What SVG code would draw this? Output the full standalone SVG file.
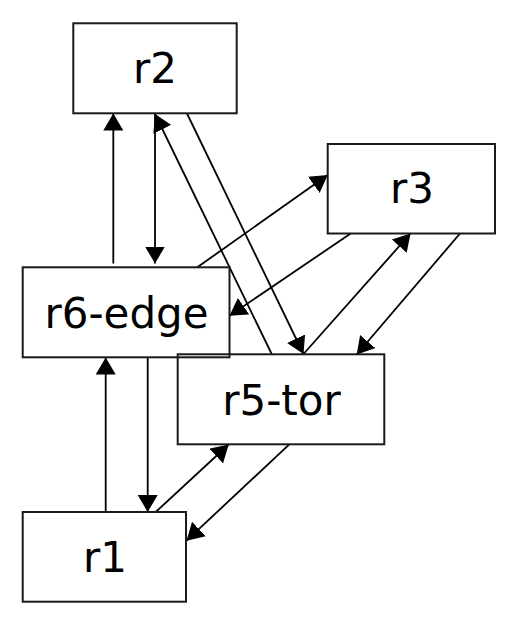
<svg xmlns="http://www.w3.org/2000/svg" width="518" height="625" viewBox="0 0 518 625">
<style>
.box{fill:none;stroke:#1a1a1a;stroke-width:2}
.lbl{font-family:"DejaVu Sans",sans-serif;font-size:42px;fill:#000;text-anchor:middle}
.e{fill:none;stroke:#000;stroke-width:1.8;marker-end:url(#ah)}
</style>
<defs>
<marker id="ah" viewBox="0 0 17 20" refX="17" refY="10" markerWidth="17" markerHeight="20" markerUnits="userSpaceOnUse" orient="auto">
<path d="M0,0 L17,10 L0,20 z" fill="#000"/>
</marker>
</defs>
<rect width="518" height="625" fill="#fff"/>
<g id="connectors">
<line class="e" x1="113.3" y1="263.5" x2="113.3" y2="113.5"/>
<line class="e" x1="155" y1="113.5" x2="155" y2="263.5"/>
<line class="e" x1="271.7" y1="354" x2="155" y2="114"/>
<line class="e" x1="187" y1="113.5" x2="303.5" y2="354"/>
<line class="e" x1="197.3" y1="267.3" x2="327.7" y2="175"/>
<line class="e" x1="350.7" y1="233.5" x2="229.5" y2="315.7"/>
<line class="e" x1="303.5" y1="354" x2="410.5" y2="233.5"/>
<line class="e" x1="460" y1="233.5" x2="356.7" y2="354.5"/>
<line class="e" x1="105.7" y1="512" x2="105.7" y2="357.5"/>
<line class="e" x1="147.7" y1="357.5" x2="147.7" y2="512"/>
<line class="e" x1="155.7" y1="512" x2="228.7" y2="444.5"/>
<line class="e" x1="289.3" y1="444.3" x2="186.5" y2="540.7"/>
</g>
<g id="r2">
<rect class="box" x="73.3" y="23.3" width="163.4" height="90"/>
<text class="lbl" x="155" y="83.3">r2</text>
</g>
<g id="r3">
<rect class="box" x="327.7" y="144" width="167.3" height="89.5"/>
<text class="lbl" x="412" y="203.3">r3</text>
</g>
<g id="r6-edge">
<rect class="box" x="22.7" y="267.3" width="206.8" height="90"/>
<text class="lbl" x="126.5" y="328.3">r6-edge</text>
</g>
<g id="r5-tor">
<rect class="box" x="177.7" y="354.3" width="206.6" height="90"/>
<text class="lbl" x="281.5" y="415">r5-tor</text>
</g>
<g id="r1">
<rect class="box" x="22.7" y="512" width="163.3" height="89.7"/>
<text class="lbl" x="105" y="571.7">r1</text>
</g>
</svg>
